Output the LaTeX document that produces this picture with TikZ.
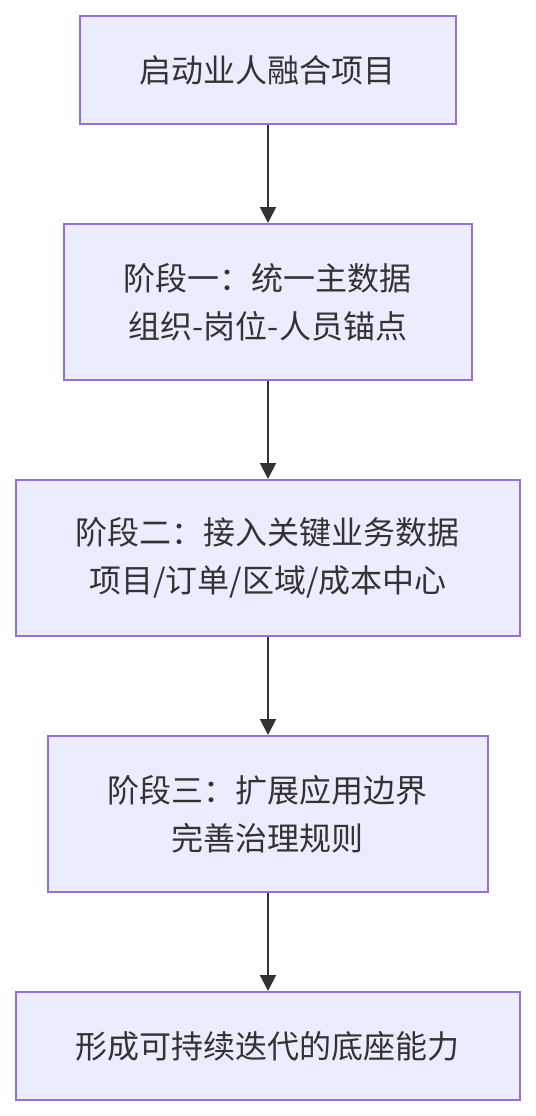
\documentclass[tikz,border=0pt]{standalone}
\usepackage{fontspec}
\setmainfont{Noto Sans CJK SC}
\usetikzlibrary{arrows.meta, positioning}
\definecolor{boxfill}{HTML}{ECECFF}
\definecolor{boxline}{HTML}{9370DB}
\definecolor{darkgray}{HTML}{333333}

\begin{document}
\begin{tikzpicture}[
      node distance=49pt,
      box/.style={rectangle, draw=boxline, fill=boxfill, line width=1pt,
                  minimum height=54pt, align=center, text=darkgray,
                  font=\fontsize{16}{24}\selectfont},
      tall/.style={minimum height=78pt},
      arrow/.style={-{Triangle[length=8pt, width=8pt]}, line width=1pt, darkgray}
    ]
    \useasboundingbox (-134pt,35pt) rectangle (134pt,-523pt);
    \node[box, minimum width=188pt] (start) at (0,0) {启动业人融合项目};
    \node[box, tall, minimum width=204pt, below=of start] (phase1) {阶段一：统一主数据\\组织-岗位-人员锚点};
    \node[box, tall, minimum width=252pt, below=of phase1] (phase2) {阶段二：接入关键业务数据\\项目/订单/区域/成本中心};
    \node[box, tall, minimum width=220pt, below=of phase2] (phase3) {阶段三：扩展应用边界\\完善治理规则};
    \node[box, minimum width=252pt, below=of phase3] (result) {形成可持续迭代的底座能力};

    \draw[arrow] (start) -- (phase1);
    \draw[arrow] (phase1) -- (phase2);
    \draw[arrow] (phase2) -- (phase3);
    \draw[arrow] (phase3) -- (result);
  \end{tikzpicture}
\end{document}
